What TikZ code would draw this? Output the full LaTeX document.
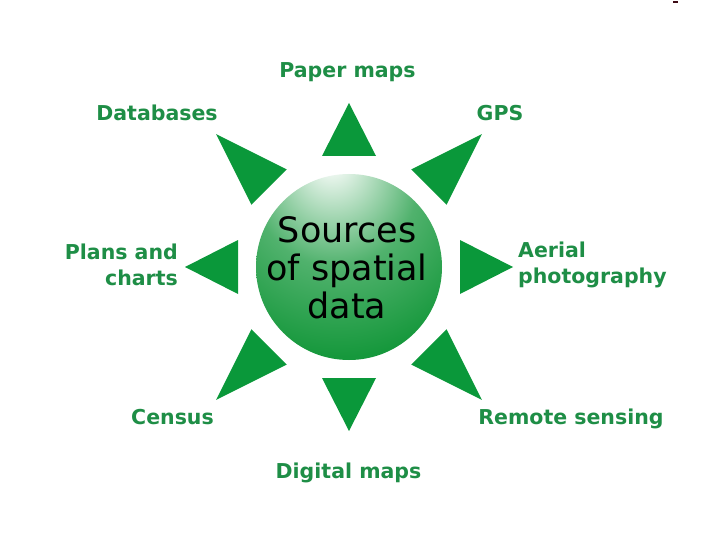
\documentclass[tikz,border=0pt]{standalone}
\usepackage{fontspec}
\setmainfont{DejaVu Sans}
\usetikzlibrary{calc}
\definecolor{trigreen}{RGB}{10,152,58}
\definecolor{labgreen}{RGB}{30,142,70}
\definecolor{sg}{RGB}{22,152,60}
\definecolor{markdark}{RGB}{60,10,20}
\pgfdeclareradialshading{greensphere}{\pgfpoint{-5bp}{30bp}}{%
  color(0bp)=(white); color(4bp)=(white!90!sg); color(22bp)=(sg!75!white);
  color(40bp)=(sg); color(62bp)=(sg!85!black); color(85bp)=(sg!60!black)}
\begin{document}
\begin{tikzpicture}[x=1pt,y=-1pt,
  lab/.style={text=labgreen, font=\fontsize{20.5}{26}\selectfont\bfseries, inner sep=0pt},
  tri/.style={fill=trigreen},
  title/.style={align=center, text=black, font=\fontsize{35}{38}\selectfont, inner sep=0pt}]
\useasboundingbox (0,0) rectangle (720,540);
\fill[white] (0,0) rectangle (720,540);
\fill[markdark] (673,1) rectangle (678,3);
\coordinate (c) at (349,267);
\shade[shading=greensphere] (c) circle (93);
\node[title] (center) at (347,268) {Sources\\of spatial\\data};
% axis-aligned triangles
\foreach \a in {0,90,180,270}{
  \fill[tri] ($(c)+(\a:111)+(\a+90:27)$) -- ($(c)+(\a:164)$) -- ($(c)+(\a:111)+(\a-90:27)$) -- cycle;
}
% diagonal triangles
\foreach \a in {45,135,225,315}{
  \fill[tri] ($(c)+(\a:113)+(\a+90:25)$) -- ($(c)+(\a:188)$) -- ($(c)+(\a:113)+(\a-90:25)$) -- cycle;
}
\node[lab, anchor=base] (paper) at (347.5,78) {Paper maps};
\node[lab, anchor=base] (db) at (157,121) {Databases};
\node[lab, anchor=base] (gps) at (500,121) {GPS};
\node[lab, align=right, anchor=east] (plans) at (178,265) {Plans and\\charts};
\node[lab, align=left, anchor=west] (aerial) at (518,265) {Aerial\\photography};
\node[lab, anchor=base] (census) at (172.5,424) {Census};
\node[lab, anchor=base] (remote) at (571,424) {Remote sensing};
\node[lab, anchor=base] (digital) at (348.5,478) {Digital maps};
\end{tikzpicture}
\end{document}
